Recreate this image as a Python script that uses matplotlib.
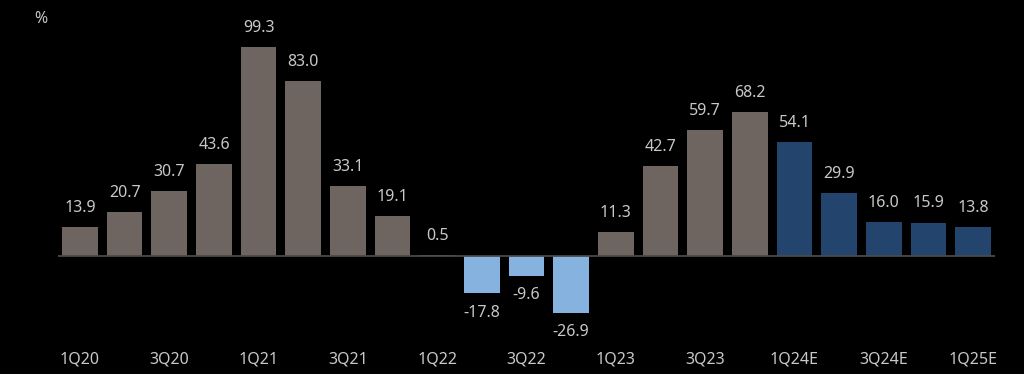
import matplotlib
matplotlib.use("Agg")
import matplotlib.pyplot as plt

categories = ["1Q20", "2Q20", "3Q20", "4Q20", "1Q21", "2Q21", "3Q21", "4Q21",
              "1Q22", "2Q22", "3Q22", "4Q22", "1Q23", "2Q23", "3Q23", "4Q23",
              "1Q24E", "2Q24E", "3Q24E", "4Q24E", "1Q25E"]
values = [13.9, 20.7, 30.7, 43.6, 99.3, 83.0, 33.1, 19.1,
          0.5, -17.8, -9.6, -26.9, 11.3, 42.7, 59.7, 68.2,
          54.1, 29.9, 16.0, 15.9, 13.8]
tick_labels = ["1Q20", "3Q20", "1Q21", "3Q21", "1Q22", "3Q22", "1Q23", "3Q23",
               "1Q24E", "3Q24E", "1Q25E"]

GRAY = "#6e6560"
LIGHT = "#86b2e0"
DARK = "#22446d"
TXT = "#c8c8c8"

colors = []
for c, v in zip(categories, values):
    if c.endswith("E"):
        colors.append(DARK)
    elif v < 0:
        colors.append(LIGHT)
    else:
        colors.append(GRAY)

plt.rcParams['font.family'] = ['Noto Sans', 'DejaVu Sans']

fig = plt.figure(figsize=(10.24, 3.74), dpi=100, facecolor="black")
ax = fig.add_axes([0.0563, 0.0904, 0.9158, 0.8444], facecolor="black")

x = list(range(len(categories)))
ax.bar(x, values, width=0.8, color=colors, zorder=2)
ax.axhline(0, color="#4a4a4a", lw=1.3, zorder=3)

for xi, v in zip(x, values):
    if v >= 0:
        ax.annotate(f"{v:.1f}", (xi, v), xytext=(0, 8), textcoords="offset points",
                    ha="center", va="bottom", color=TXT, fontsize=11.5)
    else:
        ax.annotate(f"{v:.1f}", (xi, v), xytext=(0, -8), textcoords="offset points",
                    ha="center", va="top", color=TXT, fontsize=11.5)

ax.set_xlim(-0.5, len(categories) - 0.5)
ax.set_ylim(-40, 110)
ax.set_xticks([categories.index(t) for t in tick_labels])
ax.set_xticklabels(tick_labels, color=TXT, fontsize=11.5)
ax.tick_params(axis="x", length=0, pad=8)
ax.set_yticks([])
for s in ax.spines.values():
    s.set_visible(False)

fig.text(0.040, 0.95, "%", color=TXT, fontsize=11.5, ha="center", va="center")

fig.savefig("out.png", dpi=100, facecolor="black")
